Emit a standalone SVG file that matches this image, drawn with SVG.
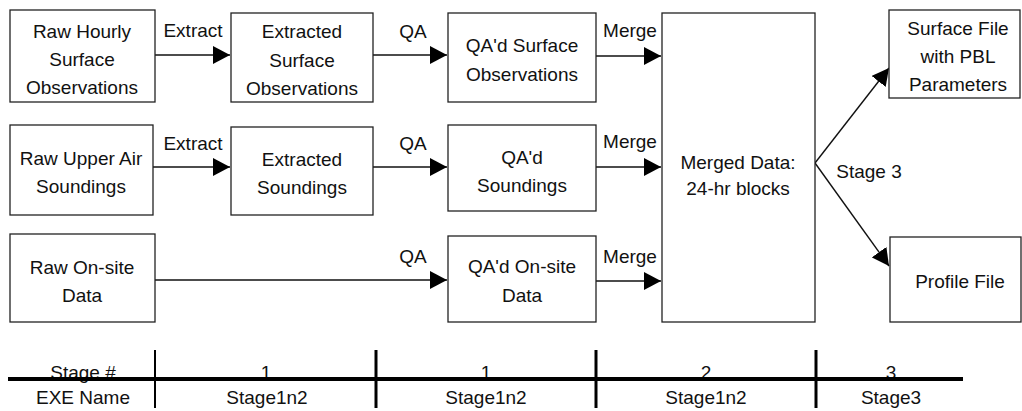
<svg xmlns="http://www.w3.org/2000/svg" width="1022" height="411" viewBox="0 0 1022 411">
<style>
  text { font-family: "Liberation Sans", Arial, sans-serif; font-size: 19px; fill: #111; text-anchor: middle; }
  .box { fill: #fff; stroke: #222; stroke-width: 1.3; }
  .con { fill: none; stroke: #111; stroke-width: 1.4; }
  .tbl { stroke: #000; }
</style>
<defs>
  <marker id="ah" markerUnits="userSpaceOnUse" markerWidth="17" markerHeight="18" refX="17" refY="9" orient="auto" viewBox="0 0 17 18">
    <path d="M0,0 L17,9 L0,18 z" fill="#000"/>
  </marker>
</defs>
<rect width="1022" height="411" fill="#fff"/>

<g id="connectors">
  <line class="con" x1="155" y1="55" x2="230" y2="55" marker-end="url(#ah)"/>
  <line class="con" x1="373" y1="55" x2="447" y2="55" marker-end="url(#ah)"/>
  <line class="con" x1="596" y1="56" x2="661" y2="56" marker-end="url(#ah)"/>
  <line class="con" x1="153" y1="167" x2="230" y2="167" marker-end="url(#ah)"/>
  <line class="con" x1="373" y1="167" x2="447" y2="167" marker-end="url(#ah)"/>
  <line class="con" x1="596" y1="167" x2="661" y2="167" marker-end="url(#ah)"/>
  <line class="con" x1="155" y1="280" x2="447" y2="280" marker-end="url(#ah)"/>
  <line class="con" x1="596" y1="281" x2="661" y2="281" marker-end="url(#ah)"/>
  <line class="con" x1="815" y1="163" x2="889" y2="68" marker-end="url(#ah)"/>
  <line class="con" x1="815" y1="163" x2="889" y2="266" marker-end="url(#ah)"/>
  <text x="193" y="37">Extract</text>
  <text x="413" y="38">QA</text>
  <text x="630" y="37">Merge</text>
  <text x="193" y="150">Extract</text>
  <text x="413" y="150">QA</text>
  <text x="630" y="148">Merge</text>
  <text x="413" y="263">QA</text>
  <text x="630" y="263">Merge</text>
  <text x="869" y="178">Stage 3</text>
</g>

<g id="raw-hourly">
  <rect class="box" x="10" y="10" width="145" height="92"/>
  <text x="82" y="38">Raw Hourly</text>
  <text x="82" y="66">Surface</text>
  <text x="82" y="94">Observations</text>
</g>
<g id="extracted-surface">
  <rect class="box" x="231" y="13" width="142" height="89"/>
  <text x="302" y="38">Extracted</text>
  <text x="302" y="67">Surface</text>
  <text x="302" y="95">Observations</text>
</g>
<g id="qa-surface">
  <rect class="box" x="448" y="13" width="148" height="89"/>
  <text x="522" y="52">QA'd Surface</text>
  <text x="522" y="81">Observations</text>
</g>
<g id="raw-upper">
  <rect class="box" x="10" y="125" width="143" height="90"/>
  <text x="81" y="165">Raw Upper Air</text>
  <text x="81" y="193">Soundings</text>
</g>
<g id="extracted-soundings">
  <rect class="box" x="231" y="127" width="142" height="88"/>
  <text x="302" y="166">Extracted</text>
  <text x="302" y="194">Soundings</text>
</g>
<g id="qa-soundings">
  <rect class="box" x="448" y="125" width="148" height="86"/>
  <text x="522" y="164">QA'd</text>
  <text x="522" y="192">Soundings</text>
</g>
<g id="raw-onsite">
  <rect class="box" x="10" y="234" width="145" height="88"/>
  <text x="82" y="274">Raw On-site</text>
  <text x="82" y="302">Data</text>
</g>
<g id="qa-onsite">
  <rect class="box" x="448" y="236" width="148" height="86"/>
  <text x="522" y="273">QA'd On-site</text>
  <text x="522" y="302">Data</text>
</g>
<g id="merged">
  <rect class="box" x="662" y="13" width="153" height="309"/>
  <text x="738" y="169">Merged Data:</text>
  <text x="738" y="195">24-hr blocks</text>
</g>
<g id="surface-file">
  <rect class="box" x="889" y="10" width="131" height="88"/>
  <text x="958" y="35">Surface File</text>
  <text x="958" y="63">with PBL</text>
  <text x="958" y="91">Parameters</text>
</g>
<g id="profile-file">
  <rect class="box" x="890" y="237" width="131" height="85"/>
  <text x="960" y="288">Profile File</text>
</g>

<g id="table">
  <text x="83" y="379">Stage #</text>
  <text x="266" y="379">1</text>
  <text x="486" y="379">1</text>
  <text x="706" y="379">2</text>
  <text x="891" y="379">3</text>
  <text x="83" y="404">EXE Name</text>
  <text x="267" y="404">Stage1n2</text>
  <text x="486" y="404">Stage1n2</text>
  <text x="706" y="404">Stage1n2</text>
  <text x="891" y="404">Stage3</text>
  <line class="tbl" x1="8" y1="379" x2="963" y2="379" stroke-width="4"/>
  <line class="tbl" x1="155" y1="350" x2="155" y2="408" stroke-width="2"/>
  <line class="tbl" x1="376" y1="350" x2="376" y2="408" stroke-width="3"/>
  <line class="tbl" x1="596" y1="350" x2="596" y2="408" stroke-width="3"/>
  <line class="tbl" x1="816" y1="350" x2="816" y2="408" stroke-width="3"/>
</g>
</svg>
